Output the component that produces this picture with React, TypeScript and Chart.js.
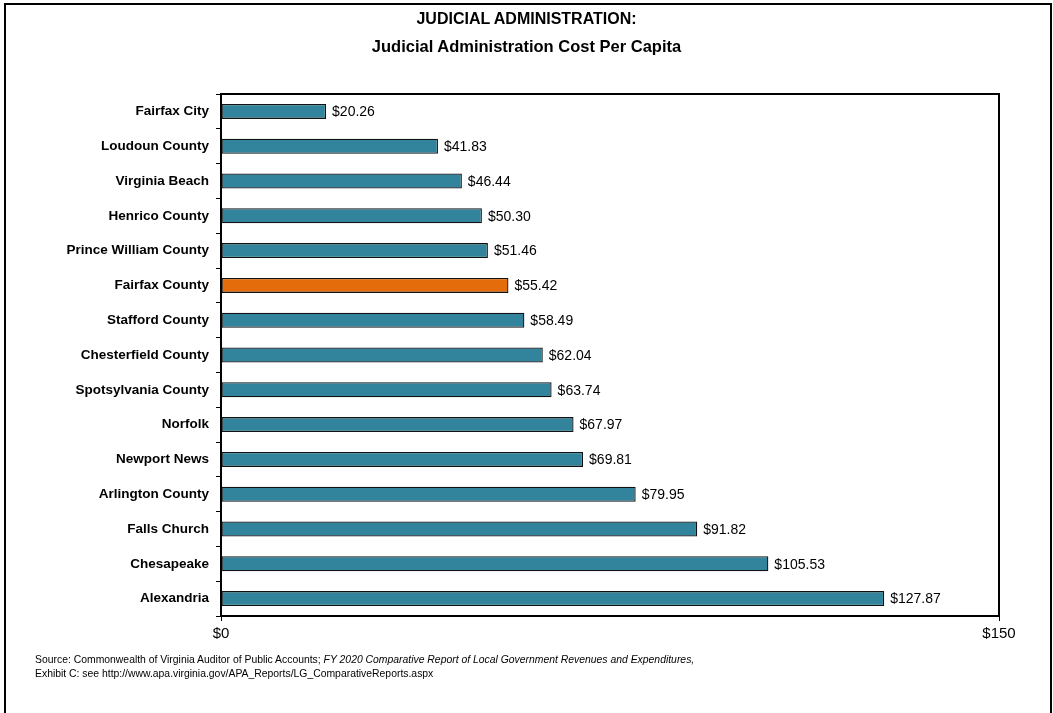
import React, { useEffect, useRef } from "react";
import { Chart, registerables } from "chart.js";

Chart.register(...registerables);

const categories = [
  "Fairfax City",
  "Loudoun County",
  "Virginia Beach",
  "Henrico County",
  "Prince William County",
  "Fairfax County",
  "Stafford County",
  "Chesterfield County",
  "Spotsylvania County",
  "Norfolk",
  "Newport News",
  "Arlington County",
  "Falls Church",
  "Chesapeake",
  "Alexandria",
];

const costPerCapita = [
  20.26, 41.83, 46.44, 50.3, 51.46, 55.42, 58.49, 62.04, 63.74, 67.97, 69.81,
  79.95, 91.82, 105.53, 127.87,
];

const highlighted = "Fairfax County";
const xTickValues = [0, 150];

const TEAL = "#31849B";
const ORANGE = "#E46C0A";

const boxPlugin = {
  id: "plotBox",
  afterDraw(chart: any) {
    const { ctx, chartArea } = chart;
    ctx.save();
    ctx.strokeStyle = "#000";
    ctx.lineWidth = 2;
    ctx.strokeRect(
      chartArea.left,
      chartArea.top,
      chartArea.right - chartArea.left,
      chartArea.bottom - chartArea.top
    );
    ctx.restore();
  },
};

const valueLabelPlugin = {
  id: "valueLabels",
  afterDatasetsDraw(chart: any) {
    const { ctx } = chart;
    const meta = chart.getDatasetMeta(0);
    ctx.save();
    ctx.font = "14px 'Liberation Sans', Arial, sans-serif";
    ctx.fillStyle = "#000";
    ctx.textAlign = "left";
    ctx.textBaseline = "middle";
    meta.data.forEach((bar: any, i: number) => {
      const v = chart.data.datasets[0].data[i] as number;
      ctx.fillText("$" + v.toFixed(2), bar.x + 6, bar.y + 1);
    });
    ctx.restore();
  },
};

function BarChart() {
  const ref = useRef<HTMLCanvasElement | null>(null);
  useEffect(() => {
    if (!ref.current) return;
    const chart = new Chart(ref.current, {
      type: "bar",
      data: {
        labels: categories,
        datasets: [
          {
            data: costPerCapita,
            backgroundColor: categories.map((c) =>
              c === highlighted ? ORANGE : TEAL
            ),
            borderColor: "#111",
            borderWidth: 1.3,
            borderSkipped: false,
            barPercentage: 0.43,
            categoryPercentage: 1,
          },
        ],
      },
      options: {
        indexAxis: "y",
        animation: false,
        responsive: false,
        maintainAspectRatio: false,
        events: [],
        layout: { padding: { left: 0, right: 54, top: 94, bottom: 0 } },
        plugins: {
          legend: { display: false },
          title: { display: false },
          tooltip: { enabled: false },
        },
        scales: {
          x: {
            type: "linear",
            min: 0,
            max: 150,
            afterBuildTicks(scale: any) {
              scale.ticks = xTickValues.map((v) => ({ value: v }));
            },
            afterFit(scale: any) {
              scale.height = 713 - 616;
            },
            ticks: {
              callback: (v: any) => "$" + v,
              color: "#000",
              font: { family: "'Liberation Sans', Arial, sans-serif", size: 15 },
              padding: 4,
              maxRotation: 0,
            },
            grid: {
              drawOnChartArea: false,
              drawTicks: true,
              tickLength: 5,
              color: "#000",
              lineWidth: 1,
            },
            border: { display: true, color: "#000", width: 2 },
          },
          y: {
            type: "category",
            afterFit(scale: any) {
              scale.width = 221;
            },
            ticks: {
              color: "#000",
              font: {
                family: "'Liberation Sans', Arial, sans-serif",
                size: 13.5,
                weight: "bold",
              },
              padding: 7,
            },
            grid: {
              offset: true,
              drawOnChartArea: false,
              drawTicks: true,
              tickLength: 5,
              color: "#000",
              lineWidth: 1,
            },
            border: { display: true, color: "#000", width: 2 },
          },
        },
      },
      plugins: [boxPlugin, valueLabelPlugin],
    } as any);
    return () => chart.destroy();
  }, []);
  return (
    <canvas
      ref={ref}
      width={1053}
      height={713}
      style={{ position: "absolute", left: 0, top: 0, width: 1053, height: 713 }}
    />
  );
}

export default function App() {
  return (
    <div
      style={{
        position: "fixed",
        left: 0,
        top: 0,
        width: 1053,
        height: 713,
        overflow: "hidden",
        background: "#fff",
        fontFamily: "'Liberation Sans', Arial, sans-serif",
      }}
    >
      <div
        style={{
          position: "absolute",
          left: 4,
          top: 3,
          width: 1053 - 4 - 5,
          height: 760,
          border: "2.5px solid #000",
        }}
      />
      <BarChart />
      <div
        style={{
          position: "absolute",
          left: 0,
          top: 8,
          width: 1053,
          textAlign: "center",
          fontWeight: "bold",
          fontSize: 16,
          lineHeight: "22px",
          color: "#000",
        }}
      >
        <div>JUDICIAL ADMINISTRATION:</div>
        <div style={{ marginTop: 5, fontSize: 16.5 }}>
          Judicial Administration Cost Per Capita
        </div>
      </div>
      <div
        style={{
          position: "absolute",
          left: 35,
          top: 653,
          fontSize: 10.4,
          lineHeight: "14px",
          color: "#000",
          whiteSpace: "nowrap",
        }}
      >
        <div>
          Source: Commonwealth of Virginia Auditor of Public Accounts;{" "}
          <i>
            FY 2020 Comparative Report of Local Government Revenues and
            Expenditures,
          </i>
        </div>
        <div>
          Exhibit C: see http://www.apa.virginia.gov/APA_Reports/LG_ComparativeReports.aspx
        </div>
      </div>
    </div>
  );
}
